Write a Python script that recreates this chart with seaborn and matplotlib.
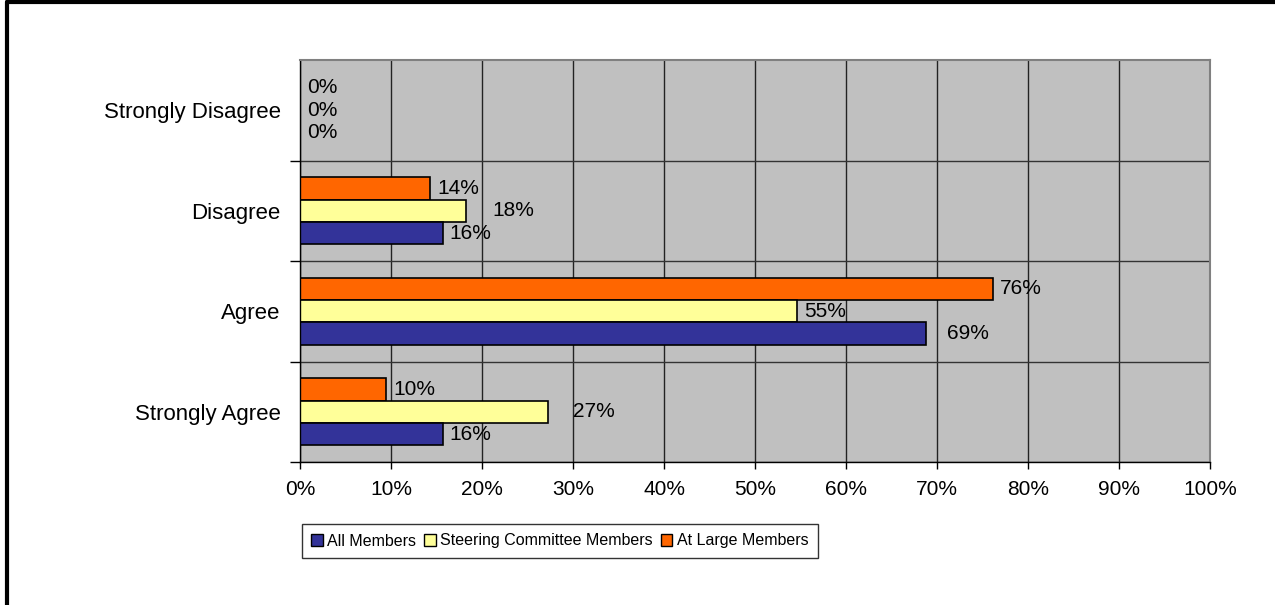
import pandas as pd
import seaborn as sns
import matplotlib.pyplot as plt
from matplotlib.patches import Patch
from matplotlib.lines import Line2D

# Chart data (percent of respondents)
responses = ['Strongly Disagree', 'Disagree', 'Agree', 'Strongly Agree']
groups = ['All Members', 'Steering Committee Members', 'At Large Members']
all_members = [0, 15.7, 68.8, 15.7]
steering_members = [0, 18.2, 54.6, 27.3]
at_large_members = [0, 14.3, 76.2, 9.5]
x_ticks = [0, 10, 20, 30, 40, 50, 60, 70, 80, 90, 100]

colors = {'All Members': '#333399', 'Steering Committee Members': '#FFFF99',
          'At Large Members': '#FF6600'}
# Excel pushed a few labels further out; extra padding in points per group
extra_pad = {'All Members': [0, 0, 10, 0],
             'Steering Committee Members': [0, 14, 0, 13],
             'At Large Members': [0, 0, 0, 0]}

# long format for seaborn
df = pd.DataFrame({
    'Response': responses * 3,
    'Group': ['All Members'] * 4 + ['Steering Committee Members'] * 4 + ['At Large Members'] * 4,
    'Percent': all_members + steering_members + at_large_members,
})

sns.set_style('white')
plt.rcParams['font.family'] = ['Liberation Sans', 'DejaVu Sans']

fig = plt.figure(figsize=(12.75, 6.05), dpi=100)
ax = fig.add_axes([300 / 1275, 143 / 605, 910 / 1275, 402 / 605])

# top bar in each group is At Large, bottom is All Members
draw_order = ['At Large Members', 'Steering Committee Members', 'All Members']
sns.barplot(data=df, y='Response', x='Percent', hue='Group', hue_order=draw_order,
            order=responses, palette=colors, saturation=1, orient='h', width=0.67,
            edgecolor='black', linewidth=1.2, legend=False, ax=ax)

for container, grp in zip(ax.containers, draw_order):
    vals = df[df['Group'] == grp]['Percent'].tolist()
    for bar, v, p in zip(container, vals, extra_pad[grp]):
        ax.annotate(f'{round(v)}%', (bar.get_width(), bar.get_y() + bar.get_height() / 2),
                    xytext=(5 + p, 0), textcoords='offset points',
                    ha='left', va='center', fontsize=15, color='black')

ax.set_facecolor('#C0C0C0')
ax.set_xlim(0, 100)
ax.set_ylim(3.5, -0.5)
ax.set_xticks(x_ticks)
ax.set_xticklabels([f'{t}%' for t in x_ticks], fontsize=15, color='black')
ax.set_yticks(range(len(responses)))
ax.set_yticklabels(responses, fontsize=16, color='black')
ax.set_yticks([0.5, 1.5, 2.5, 3.5], minor=True)
ax.set_xlabel('')
ax.set_ylabel('')

ax.tick_params(axis='y', which='major', length=0, pad=14)
ax.tick_params(axis='y', which='minor', length=7, width=1, color='black', left=True)
ax.tick_params(axis='x', which='major', length=5, width=1, color='black', bottom=True, pad=8)
ax.grid(axis='x', which='major', color='#222222', linewidth=1)
ax.grid(axis='y', which='minor', color='#333333', linewidth=1)
ax.set_axisbelow(True)

for side in ['left', 'bottom']:
    ax.spines[side].set_color('black')
    ax.spines[side].set_linewidth(1)
for side in ['top', 'right']:
    ax.spines[side].set_color('#808080')
    ax.spines[side].set_linewidth(1.5)

handles = [Patch(facecolor=colors[g], edgecolor='black', linewidth=1) for g in groups]
leg = fig.legend(handles, groups, loc='center', bbox_to_anchor=(560 / 1275, 64 / 605),
                 ncol=3, frameon=True, fancybox=False, edgecolor='black', fontsize=11.5,
                 labelcolor='black', handlelength=0.7, handleheight=0.8, handletextpad=0.3,
                 columnspacing=0.5, borderpad=0.6)
leg.get_frame().set_linewidth(1)

# outer frame (only top and left edges visible)
fig.add_artist(Line2D([7 / 1275, 7 / 1275], [0, 1 - 2 / 605], transform=fig.transFigure,
                      color='black', linewidth=3))
fig.add_artist(Line2D([7 / 1275, 1], [1 - 2 / 605, 1 - 2 / 605], transform=fig.transFigure,
                      color='black', linewidth=3))

fig.savefig('out.png', dpi=100)
